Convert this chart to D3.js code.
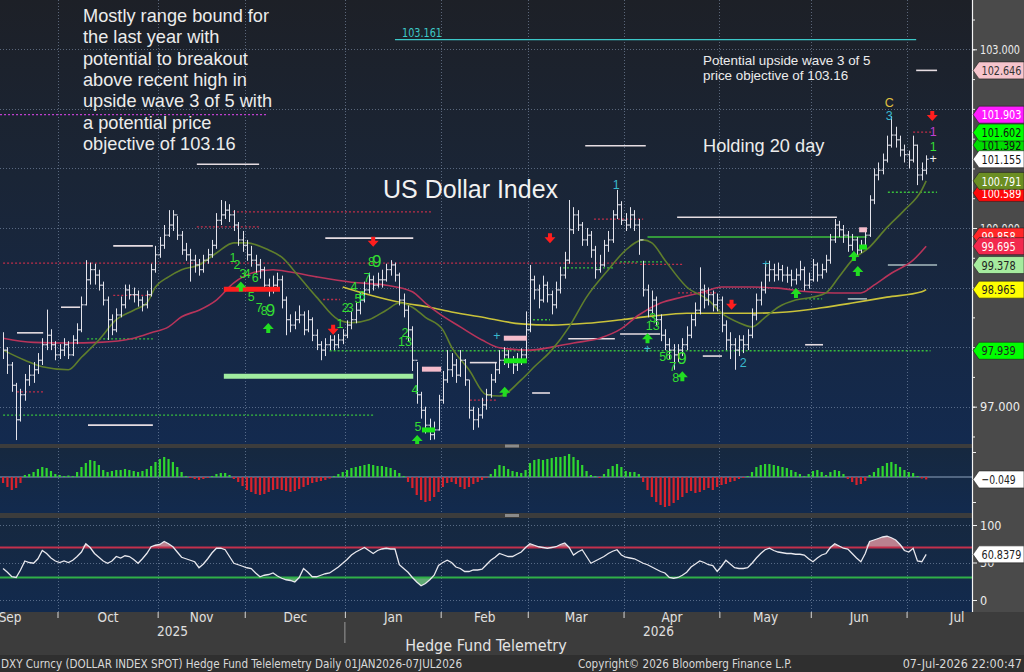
<!DOCTYPE html>
<html>
<head>
<meta charset="utf-8">
<title>US Dollar Index</title>
<style>
  body { margin: 0; background: #3c3c3c; overflow: hidden; }
  svg { display: block; }
  text { font-family: "Liberation Sans", Arial, sans-serif; }
  .narrow { font-family: "Liberation Sans Narrow", "DejaVu Sans Condensed", sans-serif; }
</style>
<script src="https://cdnjs.cloudflare.com/ajax/libs/d3/7.8.5/d3.min.js"></script>
</head>
<body>
<script>

// daily bars, 12 Sep 2025 .. 7 Jul 2026
var closes = [97.95,97.70,97.36,96.78,97.20,97.45,97.53,97.62,97.78,98.04,
  98.20,98.04,97.87,97.95,98.04,97.87,98.12,98.29,98.71,99.13,
  99.30,99.21,99.04,98.79,98.46,98.29,98.54,98.71,98.96,98.88,
  98.88,98.79,98.71,98.88,99.30,99.55,99.71,99.88,100.05,100.22,
  99.88,99.63,99.55,99.46,99.38,99.30,99.46,99.55,99.71,100.13,
  100.22,100.30,100.22,100.05,99.80,99.71,99.55,99.46,99.38,99.30,
  99.04,98.96,99.04,99.13,98.79,98.46,98.37,98.46,98.54,98.29,
  98.46,98.20,98.04,97.95,98.04,98.12,98.04,98.12,98.20,98.37,
  98.46,98.62,98.79,98.96,99.13,99.04,99.13,99.13,99.30,99.38,
  99.21,98.79,98.62,98.29,97.78,97.20,96.94,96.69,96.53,96.61,
  97.11,97.45,97.62,97.70,97.53,97.78,97.45,96.94,96.78,96.86,
  97.03,97.20,97.45,97.62,97.78,97.87,97.78,97.70,97.78,97.87,
  98.29,99.13,98.96,98.79,99.04,98.88,98.71,98.96,99.21,99.46,
  99.97,100.22,100.05,99.80,99.88,99.63,99.30,99.38,99.71,99.80,
  100.22,100.39,100.13,100.05,100.22,100.05,99.80,98.96,98.62,98.79,
  98.46,98.20,98.04,97.95,97.87,97.95,98.04,98.20,98.46,98.62,
  98.96,98.79,98.88,98.71,98.79,98.37,98.12,98.04,97.95,98.12,
  98.04,98.20,98.54,98.79,98.96,99.21,99.30,99.21,99.30,99.21,
  99.21,99.13,99.21,99.30,99.04,99.13,99.38,99.21,99.30,99.46,
  99.80,100.05,99.97,99.88,99.71,99.80,99.63,99.71,99.88,100.47,
  100.89,100.97,101.14,101.39,101.56,101.48,101.31,101.23,101.14,101.39,
  100.89,100.97,101.155];

var highs = [98.25,98.00,97.75,97.40,97.30,97.55,97.70,97.75,97.90,98.15,
  98.63,98.30,98.10,98.05,98.15,98.10,98.20,98.40,98.85,99.46,
  99.42,99.40,99.30,99.10,98.85,98.55,98.65,98.85,99.05,99.05,
  99.00,98.95,98.85,98.95,99.40,99.70,99.85,100.05,100.30,100.30,
  100.20,99.95,99.75,99.65,99.55,99.48,99.55,99.65,99.80,100.25,
  100.47,100.45,100.40,100.30,100.10,99.95,99.80,99.70,99.55,99.48,
  99.35,99.15,99.20,99.25,99.20,98.85,98.55,98.60,98.70,98.60,
  98.62,98.50,98.30,98.10,98.15,98.20,98.20,98.22,98.30,98.45,
  98.60,98.75,98.92,99.10,99.25,99.20,99.25,99.30,99.40,99.46,
  99.42,99.25,98.90,98.70,98.35,97.75,97.25,97.00,96.80,96.75,
  97.20,97.60,97.95,97.90,97.80,97.95,97.80,97.45,97.00,96.98,
  97.15,97.30,97.55,97.75,97.95,98.00,97.95,97.85,97.90,97.98,
  98.60,99.38,99.20,99.05,99.20,99.10,98.95,99.10,99.35,99.60,
  100.47,100.35,100.30,100.10,100.00,99.95,99.70,99.55,99.80,99.95,
  100.30,100.64,100.45,100.25,100.35,100.30,100.15,99.45,99.05,98.95,
  98.85,98.55,98.30,98.15,98.05,98.05,98.15,98.35,98.55,98.75,
  99.34,99.05,99.00,98.95,98.90,98.85,98.45,98.25,98.15,98.20,
  98.20,98.30,98.65,98.90,99.10,99.40,99.45,99.40,99.42,99.38,
  99.35,99.30,99.32,99.45,99.35,99.25,99.48,99.42,99.40,99.55,
  99.90,100.15,100.12,100.05,99.95,99.90,99.85,99.80,99.95,100.55,
  101.00,101.10,101.25,101.55,101.88,101.70,101.55,101.40,101.30,101.55,
  101.40,101.10,101.22];

var lows = [97.80,97.55,97.25,96.44,96.75,97.10,97.35,97.40,97.55,97.70,
  97.95,97.95,97.78,97.80,97.85,97.80,97.85,98.05,98.25,98.70,
  99.05,99.05,98.95,98.70,98.12,98.20,98.25,98.50,98.65,98.80,
  98.75,98.68,98.60,98.65,98.85,99.25,99.50,99.65,99.85,99.95,
  99.80,99.55,99.45,99.10,99.25,99.20,99.25,99.40,99.50,99.65,
  100.05,100.15,100.10,99.95,99.70,99.60,99.45,99.35,99.25,99.15,
  98.95,98.85,98.90,98.95,98.65,98.20,98.25,98.30,98.40,98.20,
  98.25,98.10,97.95,97.78,97.85,97.95,97.95,97.98,98.05,98.15,
  98.30,98.40,98.55,98.75,98.90,98.95,99.00,99.00,99.10,99.20,
  99.10,98.70,98.50,98.10,97.60,97.05,96.80,96.55,96.44,96.45,
  96.60,97.05,97.40,97.50,97.40,97.50,97.35,96.80,96.61,96.65,
  96.80,96.95,97.15,97.40,97.55,97.70,97.65,97.55,97.60,97.70,
  97.80,98.25,98.80,98.65,98.75,98.75,98.55,98.65,98.90,99.15,
  99.40,99.90,99.95,99.70,99.70,99.50,99.15,99.25,99.35,99.60,
  99.75,100.15,100.05,99.95,100.00,99.95,99.55,98.85,98.50,98.55,
  98.35,98.10,97.95,97.80,97.62,97.75,97.85,97.95,98.15,98.35,
  98.55,98.65,98.70,98.60,98.60,98.25,97.95,97.80,97.62,97.85,
  97.90,97.95,98.15,98.45,98.70,98.90,99.10,99.10,99.12,99.10,
  99.08,99.02,99.05,99.12,98.95,98.98,99.10,99.10,99.15,99.25,
  99.40,99.75,99.85,99.75,99.60,99.62,99.55,99.58,99.65,99.85,
  100.40,100.80,100.90,101.10,101.35,101.35,101.20,101.10,101.00,101.10,
  100.72,100.80,100.90];

// moving averages: [bar, value]
var ma20 = [[0,97.95],[5,97.78],[9,97.67],[15,97.62],[18,97.83],[22,98.12],[26,98.46],[30,98.62],[33,98.74],
  [35,99.01],[38,99.18],[41,99.30],[45,99.38],[49,99.58],[53,99.75],[56,99.75],[61,99.63],[64,99.51],
  [68,99.18],[72,98.84],[77,98.46],[80,98.41],[84,98.46],[88,98.62],[91,98.74],[94,98.67],[97,98.50],
  [101,98.29],[103,98.00],[107,97.62],[111,97.20],[114,97.18],[119,97.45],[122,97.67],[126,97.95],
  [130,98.34],[134,98.84],[139,99.30],[143,99.63],[147,99.80],[149,99.75],[152,99.46],[157,99.01],
  [162,98.79],[165,98.57],[169,98.41],[172,98.34],[175,98.50],[178,98.67],[182,98.79],[186,98.84],
  [189,98.91],[192,99.18],[195,99.46],[199,99.68],[203,100.01],[207,100.30],[211,100.64],[212,100.791]];
var ma50 = [[0,98.15],[7,98.08],[15,98.07],[22,98.08],[30,98.15],[34,98.24],[38,98.34],[41,98.51],[45,98.62],
  [49,98.79],[53,99.08],[57,99.24],[62,99.30],[66,99.26],[72,99.18],[80,99.09],[88,99.04],[94,98.93],
  [97,98.74],[100,98.57],[105,98.34],[110,98.12],[114,97.99],[121,97.95],[126,98.00],[131,98.07],
  [137,98.15],[142,98.31],[146,98.54],[151,98.74],[156,98.84],[161,98.93],[165,99.01],[172,99.01],
  [178,98.99],[185,98.93],[191,98.91],[197,98.91],[200,99.04],[204,99.24],[209,99.46],[212,99.695]];
var ma100 = [[78,99.01],[84,98.88],[92,98.74],[98,98.67],[103,98.59],[111,98.49],[119,98.39],[126,98.37],
  [134,98.40],[142,98.46],[149,98.52],[157,98.57],[165,98.57],[172,98.57],[180,98.59],[188,98.66],
  [195,98.74],[203,98.84],[211,98.93],[212,98.965]];

var hist = [-0.12,-0.20,-0.26,-0.22,-0.12,0.04,0.06,0.10,0.16,0.20,
  0.18,0.12,0.06,0.04,0.02,0.03,0.02,0.10,0.20,0.28,
  0.34,0.32,0.24,0.14,0.10,0.12,0.14,0.14,0.16,0.14,
  0.12,0.10,0.12,0.16,0.22,0.30,0.36,0.40,0.36,0.30,
  0.20,0.10,0.02,-0.02,-0.04,-0.06,-0.04,-0.02,0.02,0.06,
  0.08,0.08,0.04,-0.04,-0.10,-0.18,-0.26,-0.30,-0.34,-0.36,
  -0.34,-0.30,-0.26,-0.24,-0.26,-0.28,-0.30,-0.28,-0.24,-0.20,
  -0.16,-0.12,-0.10,-0.08,-0.06,-0.03,0.02,0.06,0.10,0.14,
  0.18,0.20,0.22,0.24,0.26,0.24,0.22,0.22,0.20,0.18,
  0.14,0.08,0.02,-0.10,-0.22,-0.36,-0.46,-0.50,-0.48,-0.40,
  -0.30,-0.20,-0.12,-0.10,-0.14,-0.20,-0.24,-0.20,-0.14,-0.10,
  -0.06,-0.02,0.06,0.16,0.24,0.22,0.16,0.12,0.10,0.08,
  0.14,0.28,0.34,0.36,0.34,0.36,0.38,0.40,0.40,0.42,
  0.46,0.40,0.34,0.24,0.12,0.04,0.02,-0.02,0.06,0.16,
  0.22,0.26,0.20,0.12,0.10,0.10,0.06,-0.10,-0.26,-0.40,
  -0.50,-0.56,-0.60,-0.58,-0.52,-0.46,-0.40,-0.32,-0.28,-0.32,
  -0.30,-0.26,-0.22,-0.26,-0.20,-0.16,-0.14,-0.10,-0.08,-0.04,
  -0.02,0.02,0.10,0.20,0.24,0.26,0.26,0.24,0.22,0.20,
  0.18,0.14,0.10,0.06,0.02,0.06,0.12,0.14,0.10,0.04,
  0.10,0.14,0.12,0.06,-0.04,-0.10,-0.16,-0.14,-0.08,0.04,
  0.10,0.18,0.22,0.28,0.30,0.26,0.20,0.14,0.10,0.08,
  0.02,-0.03,-0.049];

var rsi = [42,37,31,30,40,52,50,49,55,66,
  62,56,52,50,52,50,53,58,64,75,
  70,62,57,52,49,52,58,56,59,58,
  54,49,55,62,71,73,74,78,75,71,
  64,57,55,53,51,43,48,55,63,69,
  69,67,58,49,47,45,43,42,36,31,
  33,34,36,32,29,27,26,24,30,42,
  37,31,31,33,35,36,40,44,49,54,
  60,64,67,70,66,62,66,68,69,68,
  68,47,42,37,30,24,19,22,27,33,
  46,50,53,50,44,42,38,38,40,40,
  41,47,53,57,62,60,58,58,61,64,
  70,75,73,71,70,69,70,71,74,76,
  70,60,64,67,58,49,52,55,58,62,
  65,67,60,57,56,55,52,49,47,44,
  41,38,36,30,29,30,33,37,44,48,
  52,50,47,46,38,45,53,48,43,42,
  42,43,49,56,62,67,69,66,64,63,
  62,62,61,61,60,55,51,56,60,62,
  70,75,72,69,68,62,56,51,62,78,
  80,82,84,85,83,80,74,66,64,69,
  52,51,60.8379];

// study lines on the price pane: [fromBar, toBar, price]
var whiteLines = [[44.5,58.8,101.07],[209.7,214.5,102.646],[133.7,147.6,101.38],[74,94.2,99.83],[154.8,191.5,100.18],
  [3.2,9.2,98.24],[13.3,17.7,98.67],[25.3,34.4,99.70],[19.5,34.4,96.69],[107.2,113.4,97.74],[121.5,125.6,97.23],
  [129.8,140.5,98.14],[141.7,150.9,98.22],[160.7,165.1,97.85],[184.2,188.3,98.04]];
var grayLines = [[194,198.4,98.81],[203.2,214.5,99.378]];
var cyanLines = [[90,209.7,103.161]];
var magentaDots = [[-0.7,60.8,101.903]];
var redDots = [[209,213.4,101.61],[52.8,98.5,100.27],[44.5,59,100.02],[0,146,99.41],[135.7,147,100.15],
  [25.3,33.8,98.87],[3.2,9.2,97.25],[73.5,77.4,98.80],[107.2,113.4,97.11],[146.3,156,99.39],[155,164,98.91]];
var greenDots = [[203.2,214.5,100.60],[19.3,34.4,98.14],[0,85,96.86],[75,213,97.939],[128.6,140.5,99.33],
  [121.7,125.6,98.46],[141.7,151.6,99.43],[184.2,188.1,98.81]];
var greenSolid = [[148,198.4,99.85]];
var redBars = [[50.7,63.6,98.97]];
var paleGreenBars = [[50.7,94.2,97.51]];
var pinkBars = [[96.2,100.6,97.63],[115,120.3,98.15],[196.6,198.4,99.97]];
var greenBars = [[96.2,99.2,96.61],[115,120.3,97.77],[196.6,198.4,99.68]];

// sequential counts and signals: [bar, price, label]
var greenCounts = [[52.8,99.50,'1'],[53.7,99.38,'2'],[55.1,99.23,'3'],[56.1,99.23,'4'],[57.9,99.16,'6'],[57,98.84,'5'],
  [58.8,98.67,'7'],[60,98.62,'8'],[61.4,98.62,'9'],
  [77.4,98.40,'1'],[78.6,98.66,'2'],[79.7,98.66,'3'],[80.6,99.01,'4'],[81.5,98.82,'5'],[82.4,98.87,'6'],
  [83.6,99.16,'7'],[84.6,99.44,'8'],[85.8,99.44,'9'],
  [92.3,98.24,'2'],[92.3,98.10,'13'],[94.6,97.28,'4'],[95.3,96.66,'5'],
  [149.2,98.50,'3'],[149.2,98.36,'13'],[151.5,97.84,'5'],[152.9,97.86,'6'],[153.8,97.67,'7'],[155.9,97.82,'9'],
  [154.5,97.48,'8'],[213.6,101.36,'1']];
var cyanCounts = [[140.8,100.72,'1'],[170,97.74,'2'],[203.5,101.89,'3'],[113.4,98.20,'+'],[148,97.98,'+'],[175.2,99.41,'+']];
var yellowCounts = [[203.5,102.10,'C']];
var magentaCounts = [[213.6,101.61,'1']];
var whiteCounts = [[213.6,101.17,'+']];
var downArrows = [[75.8,98.29],[85,99.77],[125.6,99.83],[167.3,98.71],[213.4,101.88]];
var upArrows = [[54.6,99.02],[60.9,98.32],[95.1,96.44],[115.2,97.25],[148,98.15],[156,97.51],[182.1,98.91],[195.4,99.53],[196.3,99.28]];

// last-value tags on the price axis
var tagValues = [102.646,101.903,101.392,101.602,101.155,100.589,100.791,99.858,99.695,99.378,98.965,97.939];
var tagFills = ['#f6c4cc','#ff1cff','#00dd00','#00ff00','#ffffff','#ff0a0a','#6b8e23','#ff2828','#f2294e','#a6eb9e','#ffff00','#00ff00'];
var tagInks = ['#333','#fff','#111','#111','#111','#fff','#fff','#fff','#fff','#222','#222','#222'];
var priceLabels = [97, 100, 103];

var W = 1024, H = 672, R = 972;
var panes = {main: [0, 444], macd: [448, 513], rsi: [518, 612]};

var svg = d3.select('body').append('svg').attr('width', W).attr('height', H);
var defs = svg.append('defs');

var grad = defs.append('linearGradient').attr('id', 'bgMain').attr('x1', 0).attr('y1', 0).attr('x2', 0).attr('y2', 1);
grad.append('stop').attr('offset', '0%').attr('stop-color', '#1d2027');
grad.append('stop').attr('offset', '40%').attr('stop-color', '#1a2536');
grad.append('stop').attr('offset', '100%').attr('stop-color', '#132a4f');
var grad2 = defs.append('linearGradient').attr('id', 'bgSub').attr('x1', 0).attr('y1', 0).attr('x2', 0).attr('y2', 1);
grad2.append('stop').attr('offset', '0%').attr('stop-color', '#16283f');
grad2.append('stop').attr('offset', '100%').attr('stop-color', '#122a4e');

Object.keys(panes).forEach(function(k) {
    defs.append('clipPath').attr('id', 'clip-' + k).append('rect')
        .attr('x', 0).attr('y', panes[k][0]).attr('width', R).attr('height', panes[k][1] - panes[k][0]);
    svg.append('rect').attr('x', 0).attr('y', panes[k][0]).attr('width', R).attr('height', panes[k][1] - panes[k][0])
        .attr('fill', k === 'main' ? 'url(#bgMain)' : 'url(#bgSub)');
});

// right axis column and bottom strip
svg.append('rect').attr('x', R).attr('y', 0).attr('width', W - R).attr('height', 612).attr('fill', '#4a4a4a');
svg.append('rect').attr('x', 0).attr('y', 655).attr('width', W).attr('height', H - 655).attr('fill', '#2f2f2f');
[446, 515.5].forEach(function(yy) {
    svg.append('rect').attr('x', 505).attr('y', yy - 1.5).attr('width', 14).attr('height', 3).attr('fill', '#8a8a8a');
});

// trading days
var parse = d3.timeParse('%Y-%m-%d');
var allDays = d3.timeDays(parse('2025-09-01'), parse('2026-08-01')).filter(function(d) { return d.getDay() % 6 !== 0; });
var startIdx = d3.bisector(function(d) { return d; }).left(allDays, parse('2025-09-12'));
var fmtMonth = d3.timeFormat('%b');
var months = d3.timeMonths(parse('2025-09-01'), parse('2026-08-01')).map(function(m) {
    var inMonth = allDays.filter(function(d) { return d.getMonth() === m.getMonth() && d.getFullYear() === m.getFullYear(); });
    var first = allDays.indexOf(inMonth[0]) - startIdx;
    return {name: fmtMonth(m), year: m.getFullYear(), first: first, mid: first + (inMonth.length - 1) / 2};
});

var x = d3.scaleLinear().domain([-0.5, 222.5]).range([0.9, 971.9]);
var yP = d3.scaleLinear().domain([97, 103]).range([406.7, 49.3]);
var yH = d3.scaleLinear().domain([-1, 1]).range([527, 427]);
var yR = d3.scaleLinear().domain([0, 100]).range([600, 525]);

var bounds = months.filter(function(m) { return m.first > 0 && x(m.first - 0.5) < R; }).map(function(m) { return m.first - 0.5; });

// grid
var grid = svg.append('g').attr('stroke', '#8ea0bb').attr('stroke-opacity', 0.55).attr('stroke-dasharray', '1,2');
Object.keys(panes).forEach(function(k) {
    grid.selectAll(null).data(bounds).enter().append('line')
        .attr('x1', function(d) { return Math.round(x(d)) + 0.5; }).attr('x2', function(d) { return Math.round(x(d)) + 0.5; })
        .attr('y1', panes[k][0]).attr('y2', panes[k][1]);
});
grid.selectAll(null).data(d3.range(97, 104)).enter().append('line')
    .attr('x1', 0).attr('x2', R).attr('y1', function(d) { return Math.round(yP(d)) + 0.5; }).attr('y2', function(d) { return Math.round(yP(d)) + 0.5; });
grid.selectAll(null).data([0, 50, 100]).enter().append('line')
    .attr('x1', 0).attr('x2', R).attr('y1', function(d) { return Math.round(yR(d)) + 0.5; }).attr('y2', function(d) { return Math.round(yR(d)) + 0.5; });

// ---- price pane
var main = svg.append('g').attr('clip-path', 'url(#clip-main)');

function hlines(data, color, width, dash, opacity) {
    main.append('g').selectAll('line').data(data).enter().append('line')
        .attr('x1', function(d) { return x(d[0]); }).attr('x2', function(d) { return x(d[1]); })
        .attr('y1', function(d) { return yP(d[2]); }).attr('y2', function(d) { return yP(d[2]); })
        .attr('stroke', color).attr('stroke-width', width)
        .attr('stroke-dasharray', dash || null).attr('stroke-opacity', opacity || 1);
}
hlines(magentaDots, '#c040d0', 1.3, '2,2');
hlines(redDots, '#d0304a', 1.3, '2,2', 0.9);
hlines(greenDots, '#3ccf3c', 1.3, '2,2', 0.9);
hlines(cyanLines, '#3cc8c8', 1.3);
hlines(whiteLines, '#e6dde2', 1.6);
hlines(grayLines, '#a8bcc0', 1.6);
hlines(greenSolid, '#3cc03c', 1.6);

var maLine = d3.line().x(function(d) { return x(d[0]); }).y(function(d) { return yP(d[1]); }).curve(d3.curveMonotoneX);
main.append('path').datum(ma100).attr('d', maLine).attr('fill', 'none').attr('stroke', '#c9c23a').attr('stroke-width', 1.6);
main.append('path').datum(ma50).attr('d', maLine).attr('fill', 'none').attr('stroke', '#b8345a').attr('stroke-width', 1.6);
main.append('path').datum(ma20).attr('d', maLine).attr('fill', 'none').attr('stroke', '#5f7e2c').attr('stroke-width', 1.6);

// OHLC bars (open tick drawn at prior close)
var bars = main.append('g').attr('stroke', '#e4e4ec').attr('stroke-width', 1);
closes.forEach(function(c, i) {
    var cx = Math.round(x(i)) + 0.5;
    bars.append('line').attr('x1', cx).attr('x2', cx).attr('y1', yP(highs[i])).attr('y2', yP(lows[i]));
    bars.append('line').attr('x1', cx).attr('x2', cx + 2.2).attr('y1', yP(c)).attr('y2', yP(c));
    if (i > 0) bars.append('line').attr('x1', cx - 2.2).attr('x2', cx).attr('y1', yP(closes[i - 1])).attr('y2', yP(closes[i - 1]));
});

hlines(redBars, '#ff1e1e', 5);
hlines(paleGreenBars, '#a0eda0', 5);
hlines(pinkBars, '#f4bccb', 5);
hlines(greenBars, '#19e619', 5);

function counts(data, color) {
    main.append('g').selectAll('text').data(data).enter().append('text')
        .attr('x', function(d) { return x(d[0]); }).attr('y', function(d) { return yP(d[1]); })
        .attr('text-anchor', 'middle').attr('dy', '0.35em')
        .attr('font-size', function(d) { return d[2] === '9' ? 17 : 12.5; })
        .attr('fill', color).text(function(d) { return d[2]; });
}
counts(greenCounts, '#33dd33');
counts(cyanCounts, '#3ab8cc');
counts(yellowCounts, '#e0c040');
counts(magentaCounts, '#c040d0');
counts(whiteCounts, '#f0f0f0');

main.append('g').selectAll('path').data(downArrows).enter().append('path')
    .attr('transform', function(d) { return 'translate(' + x(d[0]) + ',' + yP(d[1]) + ')'; })
    .attr('d', 'M-2,-5h4v4h3.5l-5.5,6l-5.5,-6h3.5z').attr('fill', '#ff1e1e');
main.append('g').selectAll('path').data(upArrows).enter().append('path')
    .attr('transform', function(d) { return 'translate(' + x(d[0]) + ',' + yP(d[1]) + ')'; })
    .attr('d', 'M-2,5h4v-4h3.5l-5.5,-6l-5.5,6h3.5z').attr('fill', '#22dd22');

// commentary
var note = ['Mostly range bound for', 'the last year with', 'potential to breakout', 'above recent high in',
    'upside wave 3 of 5 with', 'a potential price', 'objective of 103.16'];
svg.append('g').selectAll('text').data(note).enter().append('text')
    .attr('x', 83).attr('y', function(d, i) { return 21.7 + i * 21.4; })
    .attr('font-size', 18.2).attr('fill', '#ececec').text(function(d) { return d; });
svg.append('text').attr('x', 383).attr('y', 198).attr('font-size', 25).attr('fill', '#f2f2f2').text('US Dollar Index');
svg.append('text').attr('x', 703).attr('y', 151.5).attr('font-size', 18.2).attr('fill', '#ececec').text('Holding 20 day');
svg.append('text').attr('x', 703).attr('y', 65).attr('font-size', 13.4).attr('fill', '#ececec').text('Potential upside wave 3 of 5');
svg.append('text').attr('x', 703).attr('y', 80).attr('font-size', 13.4).attr('fill', '#ececec').text('price objective of 103.16');
svg.append('text').attr('class', 'narrow').attr('x', 402).attr('y', yP(103.161) - 2.5).attr('font-size', 12.5)
    .attr('textLength', 40).attr('lengthAdjust', 'spacingAndGlyphs').attr('fill', '#3cc8c8').text('103.161');

// ---- histogram pane
var macd = svg.append('g').attr('clip-path', 'url(#clip-macd)');
macd.append('line').attr('x1', 0).attr('x2', R).attr('y1', yH(0)).attr('y2', yH(0)).attr('stroke', '#8da4bd').attr('stroke-width', 1.2);
macd.selectAll('rect').data(hist).enter().append('rect')
    .attr('x', function(d, i) { return x(i) - 1.1; }).attr('width', 2.2)
    .attr('y', function(d) { return Math.min(yH(d), yH(0)); })
    .attr('height', function(d) { return Math.abs(yH(d) - yH(0)); })
    .attr('fill', function(d) { return d >= 0 ? '#2fd62f' : '#d8222c'; });

// ---- RSI pane
var rp = svg.append('g').attr('clip-path', 'url(#clip-rsi)');
rp.append('path').datum(rsi).attr('fill', '#d8909c').attr('fill-opacity', 0.85)
    .attr('d', d3.area().x(function(d, i) { return x(i); }).y0(yR(70)).y1(function(d) { return yR(Math.max(70, d)); }));
rp.append('path').datum(rsi).attr('fill', '#6cc07a').attr('fill-opacity', 0.85)
    .attr('d', d3.area().x(function(d, i) { return x(i); }).y0(yR(30)).y1(function(d) { return yR(Math.min(30, d)); }));
rp.append('line').attr('x1', 0).attr('x2', R).attr('y1', yR(70)).attr('y2', yR(70)).attr('stroke', '#c4304c').attr('stroke-width', 1.8);
rp.append('line').attr('x1', 0).attr('x2', R).attr('y1', yR(30)).attr('y2', yR(30)).attr('stroke', '#30b048').attr('stroke-width', 1.8);
rp.append('path').datum(rsi).attr('fill', 'none').attr('stroke', '#e8e8ee').attr('stroke-width', 1.3)
    .attr('d', d3.line().x(function(d, i) { return x(i); }).y(function(d) { return yR(d); }));

// ---- axes
function styleAxis(g) {
    g.select('.domain').remove();
    g.selectAll('line').attr('stroke', '#f0f0f0');
    g.selectAll('text').attr('class', 'narrow').attr('fill', '#ececec').attr('font-size', 12.5);
}
svg.append('g').attr('transform', 'translate(' + R + ',0)')
    .call(d3.axisRight(yP).tickValues(d3.range(96.5, 104, 0.5)).tickSize(3).tickFormat('')).call(styleAxis);
var pa = svg.append('g').attr('transform', 'translate(' + R + ',0)')
    .call(d3.axisRight(yP).tickValues(priceLabels).tickSize(5).tickPadding(3).tickFormat(d3.format('.3f'))).call(styleAxis);
pa.selectAll('text').attr('textLength', 40).attr('lengthAdjust', 'spacingAndGlyphs');
svg.append('g').attr('transform', 'translate(' + R + ',0)')
    .call(d3.axisRight(yH).tickValues([-0.5, 0.5]).tickSize(4).tickFormat('')).call(styleAxis);
svg.append('g').attr('transform', 'translate(' + R + ',0)')
    .call(d3.axisRight(yR).tickValues([0, 50, 100]).tickSize(5).tickPadding(3)).call(styleAxis);
svg.append('line').attr('x1', R + 0.5).attr('x2', R + 0.5).attr('y1', 0).attr('y2', 612).attr('stroke', '#f4f4f4').attr('stroke-width', 1.2);

function tag(yy, val, fill, ink) {
    var g = svg.append('g').attr('transform', 'translate(' + (R + 1) + ',' + yy + ')');
    g.append('path').attr('d', 'M0,0L6,-8.5H51V8.5H6Z').attr('fill', fill).attr('stroke', '#222').attr('stroke-width', 0.6);
    g.append('text').attr('class', 'narrow').attr('x', 8.5).attr('dy', '0.36em').attr('font-size', 13)
        .attr('textLength', val.length * 5.7).attr('lengthAdjust', 'spacingAndGlyphs')
        .attr('fill', ink).text(val);
}
tagValues.forEach(function(v, i) { tag(yP(v), d3.format('.3f')(v), tagFills[i], tagInks[i]); });
tag(yH(hist[hist.length - 1]), d3.format('.3f')(hist[hist.length - 1]), '#ffffff', '#222');
tag(yR(rsi[rsi.length - 1]), d3.format('.4f')(rsi[rsi.length - 1]), '#ffffff', '#222');

// time axis
var xa = svg.append('g').attr('transform', 'translate(0,612)')
    .call(d3.axisBottom(x).tickValues(bounds).tickSize(6).tickFormat(''));
xa.select('.domain').remove();
xa.selectAll('line').attr('stroke', '#d8d8d8');
var xl = svg.append('g').attr('transform', 'translate(0,610)')
    .call(d3.axisBottom(x).tickValues(months.map(function(m) { return m.mid; })).tickSize(0).tickPadding(2)
        .tickFormat(function(d, i) { return months[i].name; }));
xl.select('.domain').remove();
xl.selectAll('text').attr('class', 'narrow').attr('fill', '#e0e0e0').attr('font-size', 13.5);

var janX = x(months.filter(function(m) { return m.name === 'Jan'; })[0].first - 0.5);
svg.append('line').attr('x1', janX).attr('x2', janX).attr('y1', 622).attr('y2', 643).attr('stroke', '#9a9a9a');
svg.append('text').attr('class', 'narrow').attr('x', janX / 2).attr('y', 636).attr('text-anchor', 'middle')
    .attr('font-size', 13.5).attr('fill', '#e0e0e0').text('2025');
svg.append('text').attr('class', 'narrow').attr('x', (janX + R) / 2).attr('y', 636).attr('text-anchor', 'middle')
    .attr('font-size', 13.5).attr('fill', '#e0e0e0').text('2026');

svg.append('text').attr('class', 'narrow').attr('x', 486).attr('y', 651).attr('text-anchor', 'middle')
    .attr('font-size', 16).attr('fill', '#e4e4e4').text('Hedge Fund Telemetry');
svg.append('text').attr('class', 'narrow').attr('x', 1).attr('y', 667.5).attr('font-size', 12.5).attr('fill', '#d8d8d8')
    .attr('textLength', 461).attr('lengthAdjust', 'spacingAndGlyphs')
    .text('DXY Curncy (DOLLAR INDEX SPOT) Hedge Fund Telelemetry Daily 01JAN2026-07JUL2026');
svg.append('text').attr('class', 'narrow').attr('x', 578).attr('y', 667.5).attr('font-size', 12.5).attr('fill', '#d8d8d8')
    .attr('textLength', 214).attr('lengthAdjust', 'spacingAndGlyphs')
    .text('Copyright\u00a9 2026 Bloomberg Finance L.P.');
svg.append('text').attr('class', 'narrow').attr('x', 1022).attr('y', 667.5).attr('text-anchor', 'end').attr('font-size', 12.5)
    .attr('fill', '#d8d8d8').text('07-Jul-2026 22:00:47');

</script>
</body>
</html>
